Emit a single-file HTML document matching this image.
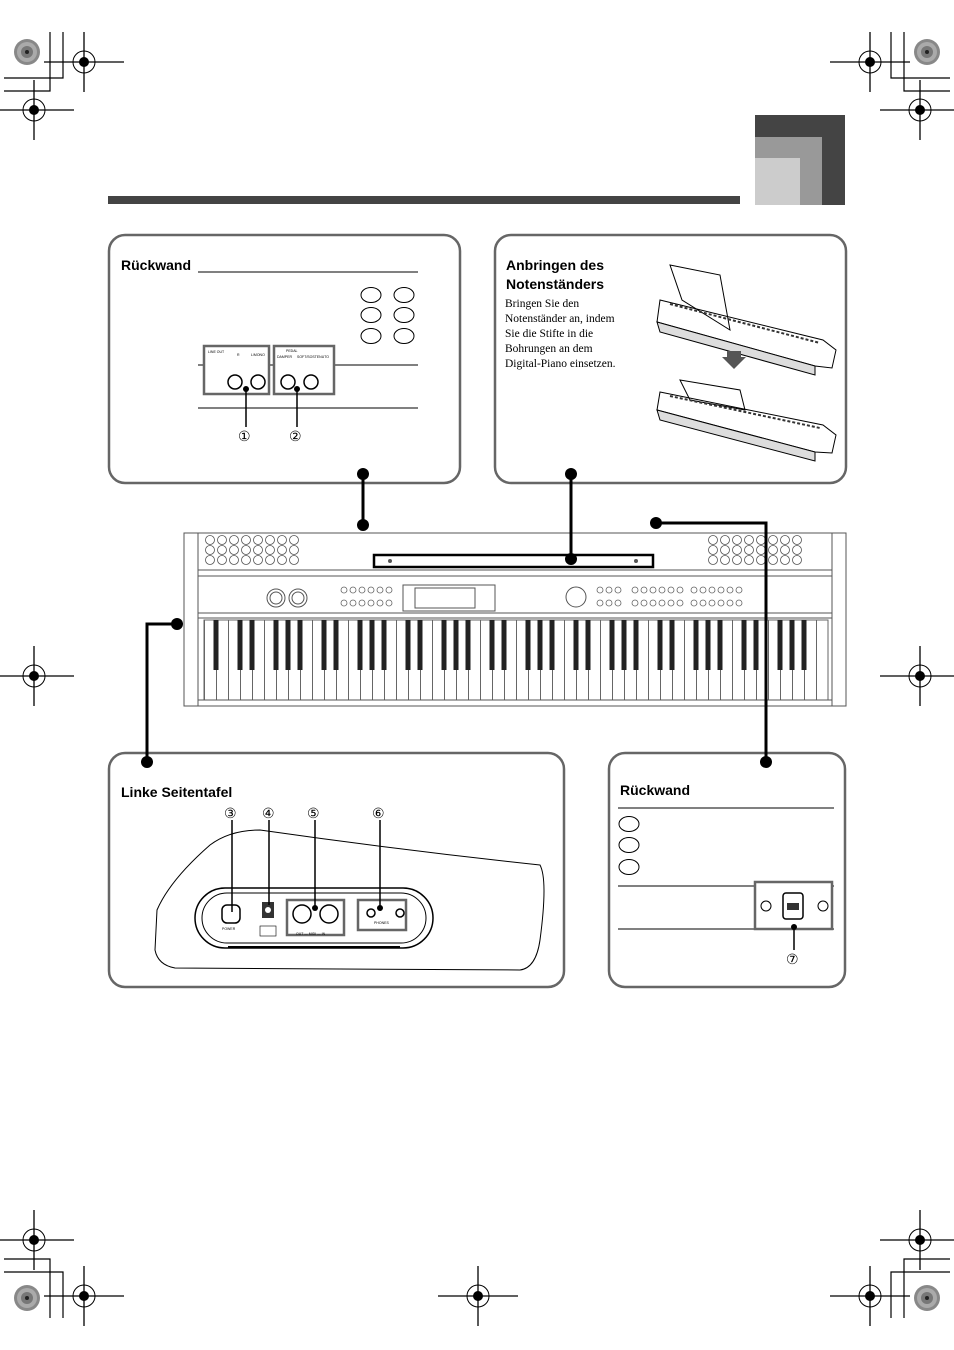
<!DOCTYPE html>
<html><head><meta charset="utf-8"><style>
html,body{margin:0;padding:0;background:#fff}
svg{display:block}
text{font-family:"Liberation Sans",sans-serif}
.s text{font-family:"Liberation Serif",serif}
</style></head><body>
<svg width="954" height="1350" viewBox="0 0 954 1350" xmlns="http://www.w3.org/2000/svg">
<defs>
<g id="ch"><line x1="-40" y1="0" x2="40" y2="0" stroke="#000" stroke-width="1.3"/><line x1="0" y1="-30" x2="0" y2="30" stroke="#000" stroke-width="1.3"/><circle r="11" fill="none" stroke="#000" stroke-width="1"/><circle r="5" fill="#000"/></g>
<g id="sp"><circle r="13" fill="#888"/><circle r="10" fill="#aaa"/><circle r="6" fill="#777"/><circle r="2" fill="#222"/></g>
<g id="grill" fill="none" stroke="#555" stroke-width="0.8">
<circle cx="0" cy="0" r="4.5"/><circle cx="12" cy="0" r="4.5"/><circle cx="24" cy="0" r="4.5"/><circle cx="36" cy="0" r="4.5"/><circle cx="48" cy="0" r="4.5"/><circle cx="60" cy="0" r="4.5"/><circle cx="72" cy="0" r="4.5"/><circle cx="84" cy="0" r="4.5"/>
</g>
<pattern id="wk" patternUnits="userSpaceOnUse" x="204" y="620" width="12" height="80">
<rect width="12" height="80" fill="#fff"/><line x1="0.5" y1="0" x2="0.5" y2="80" stroke="#666" stroke-width="1"/>
</pattern>
</defs>

<!-- crop marks -->
<g stroke="#000" stroke-width="1.2" fill="none">
<path d="M50 32V91H4M63 32V78H4"/>
<path d="M904 32V91H950M891 32V78H950"/>
<path d="M50 1318V1259H4M63 1318V1272H4"/>
<path d="M904 1318V1259H950M891 1318V1272H950"/>
</g>
<use href="#sp" x="27" y="52"/><use href="#sp" x="927" y="52"/>
<use href="#sp" x="27" y="1298"/><use href="#sp" x="927" y="1298"/>
<use href="#ch" x="84" y="62"/><use href="#ch" x="34" y="110"/>
<use href="#ch" x="870" y="62"/><use href="#ch" x="920" y="110"/>
<use href="#ch" x="34" y="676"/><use href="#ch" x="920" y="676"/>
<use href="#ch" x="34" y="1240"/><use href="#ch" x="920" y="1240"/>
<use href="#ch" x="84" y="1296"/><use href="#ch" x="870" y="1296"/>
<use href="#ch" x="478" y="1296"/>

<!-- header -->
<rect x="108" y="196" width="632" height="8" fill="#444"/>
<rect x="755" y="115" width="90" height="90" fill="#444"/>
<rect x="755" y="137" width="67" height="68" fill="#999"/>
<rect x="755" y="158" width="45" height="47" fill="#ccc"/>

<!-- panels -->
<g fill="#fff" stroke="#666" stroke-width="2.5">
<rect x="109" y="235" width="351" height="248" rx="16"/>
<rect x="495" y="235" width="351" height="248" rx="16"/>
<rect x="109" y="753" width="455" height="234" rx="16"/>
<rect x="609" y="753" width="236" height="234" rx="16"/>
</g>

<!-- top-left panel -->
<text x="121" y="270" font-size="14" font-weight="bold">Rückwand</text>
<line x1="198" y1="272" x2="418" y2="272" stroke="#000" stroke-width="1"/>
<g fill="none" stroke="#000" stroke-width="1">
<ellipse cx="371" cy="295" rx="10" ry="7.5"/><ellipse cx="404" cy="295" rx="10" ry="7.5"/>
<ellipse cx="371" cy="315" rx="10" ry="7.5"/><ellipse cx="404" cy="315" rx="10" ry="7.5"/>
<ellipse cx="371" cy="336" rx="10" ry="7.5"/><ellipse cx="404" cy="336" rx="10" ry="7.5"/>
</g>
<line x1="198" y1="365" x2="418" y2="365" stroke="#000"/>
<line x1="198" y1="408" x2="418" y2="408" stroke="#000"/>
<rect x="204" y="346" width="65" height="48" fill="#fff" stroke="#666" stroke-width="2.5"/>
<rect x="274" y="346" width="60" height="48" fill="#fff" stroke="#666" stroke-width="2.5"/>
<g fill="none" stroke="#000" stroke-width="1.5">
<circle cx="235" cy="382" r="7"/><circle cx="258" cy="382" r="7"/>
<circle cx="288" cy="382" r="7"/><circle cx="311" cy="382" r="7"/>
</g>
<g font-size="3.5"><text x="208" y="353">LINE OUT</text><text x="237" y="356">R</text><text x="251" y="356">L/MONO</text>
<text x="277" y="358">DAMPER</text><text x="297" y="358">SOFT/SOSTENUTO</text><text x="286" y="352">PEDAL</text></g>
<circle cx="246" cy="389" r="3" fill="#000"/><line x1="246" y1="389" x2="246" y2="427" stroke="#000" stroke-width="1.5"/>
<circle cx="297" cy="389" r="3" fill="#000"/><line x1="297" y1="389" x2="297" y2="427" stroke="#000" stroke-width="1.5"/>
<text x="238" y="441" font-size="14">①</text><text x="289" y="441" font-size="14">②</text>

<!-- top-right panel -->
<text x="506" y="270" font-size="14" font-weight="bold">Anbringen des</text>
<text x="506" y="289" font-size="14" font-weight="bold">Notenständers</text>
<g class="s" font-size="11.5">
<text x="505" y="307">Bringen Sie den</text>
<text x="505" y="322">Notenständer an, indem</text>
<text x="505" y="337">Sie die Stifte in die</text>
<text x="505" y="352">Bohrungen an dem</text>
<text x="505" y="367">Digital-Piano einsetzen.</text>
</g>
<g fill="#fff" stroke="#000" stroke-width="1">
<path d="M660 300L823 340L836 350L832 368L815 366L657 322Z"/>
<path d="M657 322L815 366L815 375L660 332Z" fill="#ddd"/>
<path d="M670 265L720 275L730 330L682 300Z" fill="none"/>
<path d="M660 392L823 425L836 435L832 453L815 452L657 410Z"/>
<path d="M657 410L815 452L815 461L660 420Z" fill="#ddd"/>
<path d="M680 380L740 390L745 410L690 400Z" fill="none"/>
</g>
<g stroke="#333" stroke-width="2" stroke-dasharray="3 2">
<line x1="670" y1="304" x2="820" y2="343"/><line x1="670" y1="396" x2="820" y2="428"/>
</g>
<path d="M727 351h14v6h5l-12 12l-12-12h5z" fill="#555"/>

<!-- piano -->
<rect x="204" y="620" width="624" height="80" fill="url(#wk)" stroke="#666" stroke-width="1"/>
<path fill="#222" d="M213.5 620h5v50h-5zM237.5 620h5v50h-5zM249.5 620h5v50h-5zM273.5 620h5v50h-5zM285.5 620h5v50h-5zM297.5 620h5v50h-5zM321.5 620h5v50h-5zM333.5 620h5v50h-5zM357.5 620h5v50h-5zM369.5 620h5v50h-5zM381.5 620h5v50h-5zM405.5 620h5v50h-5zM417.5 620h5v50h-5zM441.5 620h5v50h-5zM453.5 620h5v50h-5zM465.5 620h5v50h-5zM489.5 620h5v50h-5zM501.5 620h5v50h-5zM525.5 620h5v50h-5zM537.5 620h5v50h-5zM549.5 620h5v50h-5zM573.5 620h5v50h-5zM585.5 620h5v50h-5zM609.5 620h5v50h-5zM621.5 620h5v50h-5zM633.5 620h5v50h-5zM657.5 620h5v50h-5zM669.5 620h5v50h-5zM693.5 620h5v50h-5zM705.5 620h5v50h-5zM717.5 620h5v50h-5zM741.5 620h5v50h-5zM753.5 620h5v50h-5zM777.5 620h5v50h-5zM789.5 620h5v50h-5zM801.5 620h5v50h-5z"/>
<g fill="none" stroke="#555" stroke-width="1">
<rect x="184" y="533" width="662" height="173"/>
<rect x="184" y="533" width="14" height="173"/>
<rect x="832" y="533" width="14" height="173"/>
<line x1="198" y1="570" x2="832" y2="570"/>
<rect x="198" y="576" width="634" height="37"/>
<line x1="198" y1="618" x2="832" y2="618"/>
<line x1="198" y1="700" x2="832" y2="700"/>
<rect x="403" y="585" width="92" height="26"/>
<rect x="415" y="588" width="60" height="20"/>
<circle cx="276" cy="598" r="9"/><circle cx="276" cy="598" r="6"/><circle cx="298" cy="598" r="9"/><circle cx="298" cy="598" r="6"/>
<circle cx="576" cy="597" r="10"/>
</g>
<use href="#grill" x="210" y="540"/><use href="#grill" x="210" y="550"/><use href="#grill" x="210" y="560"/>
<use href="#grill" x="713" y="540"/><use href="#grill" x="713" y="550"/><use href="#grill" x="713" y="560"/>
<rect x="374" y="555" width="279" height="12" fill="#fff" stroke="#000" stroke-width="2.5"/>
<circle cx="390" cy="561" r="2" fill="#555"/><circle cx="636" cy="561" r="2" fill="#555"/>
<g fill="none" stroke="#666" stroke-width="0.8">
<circle cx="344" cy="590" r="3"/><circle cx="353" cy="590" r="3"/><circle cx="362" cy="590" r="3"/><circle cx="371" cy="590" r="3"/><circle cx="380" cy="590" r="3"/><circle cx="389" cy="590" r="3"/>
<circle cx="344" cy="603" r="3"/><circle cx="353" cy="603" r="3"/><circle cx="362" cy="603" r="3"/><circle cx="371" cy="603" r="3"/><circle cx="380" cy="603" r="3"/><circle cx="389" cy="603" r="3"/>
<circle cx="600" cy="590" r="3"/><circle cx="609" cy="590" r="3"/><circle cx="618" cy="590" r="3"/>
<circle cx="600" cy="603" r="3"/><circle cx="609" cy="603" r="3"/><circle cx="618" cy="603" r="3"/>
<circle cx="635" cy="590" r="3"/><circle cx="644" cy="590" r="3"/><circle cx="653" cy="590" r="3"/><circle cx="662" cy="590" r="3"/><circle cx="671" cy="590" r="3"/><circle cx="680" cy="590" r="3"/>
<circle cx="635" cy="603" r="3"/><circle cx="644" cy="603" r="3"/><circle cx="653" cy="603" r="3"/><circle cx="662" cy="603" r="3"/><circle cx="671" cy="603" r="3"/><circle cx="680" cy="603" r="3"/>
<circle cx="694" cy="590" r="3"/><circle cx="703" cy="590" r="3"/><circle cx="712" cy="590" r="3"/><circle cx="721" cy="590" r="3"/><circle cx="730" cy="590" r="3"/><circle cx="739" cy="590" r="3"/>
<circle cx="694" cy="603" r="3"/><circle cx="703" cy="603" r="3"/><circle cx="712" cy="603" r="3"/><circle cx="721" cy="603" r="3"/><circle cx="730" cy="603" r="3"/><circle cx="739" cy="603" r="3"/>
</g>

<!-- connectors (on top) -->
<g stroke="#000" stroke-width="3" fill="none">
<path d="M363 474V525"/><path d="M571 474V559"/>
<path d="M656 523H766V762"/><path d="M177 624H147V762"/>
</g>
<g fill="#000">
<circle cx="363" cy="474" r="6"/><circle cx="363" cy="525" r="6"/>
<circle cx="571" cy="474" r="6"/><circle cx="571" cy="559" r="6"/>
<circle cx="656" cy="523" r="6"/><circle cx="766" cy="762" r="6"/>
<circle cx="177" cy="624" r="6"/><circle cx="147" cy="762" r="6"/>
</g>

<!-- bottom-left -->
<text x="121" y="797" font-size="14" font-weight="bold">Linke Seitentafel</text>
<g font-size="14"><text x="224" y="818">③</text><text x="262" y="818">④</text><text x="307" y="818">⑤</text><text x="372" y="818">⑥</text></g>
<path d="M157 910 Q170 880 210 845 Q230 830 260 830 Q400 850 540 865 Q548 880 540 940 Q536 968 520 970 L175 968 Q158 965 155 950 Z" fill="none" stroke="#000" stroke-width="1"/>
<rect x="195" y="888" width="238" height="60" rx="30" fill="none" stroke="#000" stroke-width="1.5"/>
<rect x="202" y="893" width="224" height="50" rx="25" fill="none" stroke="#000" stroke-width="1"/>
<rect x="222" y="905" width="18" height="18" rx="5" fill="none" stroke="#000" stroke-width="1.5"/>
<rect x="262" y="902" width="12" height="16" fill="#333"/><circle cx="268" cy="910" r="3" fill="#fff"/>
<rect x="287" y="900" width="57" height="35" fill="#fff" stroke="#666" stroke-width="2.5"/>
<circle cx="302" cy="914" r="9" fill="none" stroke="#000" stroke-width="1.5"/><circle cx="329" cy="914" r="9" fill="none" stroke="#000" stroke-width="1.5"/>
<rect x="358" y="900" width="48" height="30" fill="#fff" stroke="#666" stroke-width="2.5"/>
<circle cx="371" cy="913" r="4" fill="none" stroke="#000" stroke-width="1.5"/><circle cx="400" cy="913" r="4" fill="none" stroke="#000" stroke-width="1.5"/>
<g stroke="#000" stroke-width="1.5">
<line x1="232" y1="820" x2="232" y2="912"/><line x1="269" y1="820" x2="269" y2="905"/>
<line x1="315" y1="820" x2="315" y2="908"/><line x1="380" y1="820" x2="380" y2="908"/>
</g>
<circle cx="315" cy="908" r="3"/><circle cx="380" cy="908" r="3"/>
<g font-size="3.5"><text x="222" y="930">POWER</text><text x="374" y="924">PHONES</text><text x="296" y="935">OUT — MIDI — IN</text></g>
<rect x="260" y="926" width="16" height="10" fill="none" stroke="#000" stroke-width="0.6"/>
<line x1="228" y1="947" x2="400" y2="947" stroke="#000" stroke-width="2"/>

<!-- bottom-right -->
<text x="620" y="795" font-size="14" font-weight="bold">Rückwand</text>
<line x1="618" y1="808" x2="834" y2="808" stroke="#000"/>
<g fill="none" stroke="#000" stroke-width="1">
<ellipse cx="629" cy="824" rx="10" ry="7.5"/><ellipse cx="629" cy="845" rx="10" ry="7.5"/><ellipse cx="629" cy="867" rx="10" ry="7.5"/>
</g>
<line x1="618" y1="886" x2="834" y2="886" stroke="#000"/>
<line x1="618" y1="929" x2="834" y2="929" stroke="#000"/>
<rect x="755" y="882" width="77" height="47" fill="#fff" stroke="#666" stroke-width="2.5"/>
<rect x="783" y="893" width="20" height="26" rx="3" fill="none" stroke="#000" stroke-width="1.5"/>
<rect x="787" y="903" width="12" height="7" fill="#333"/>
<circle cx="766" cy="906" r="5" fill="none" stroke="#000"/><circle cx="823" cy="906" r="5" fill="none" stroke="#000"/>
<circle cx="794" cy="927" r="3"/><line x1="794" y1="927" x2="794" y2="950" stroke="#000" stroke-width="1.5"/>
<text x="786" y="964" font-size="14">⑦</text>
</svg>
</body></html>
